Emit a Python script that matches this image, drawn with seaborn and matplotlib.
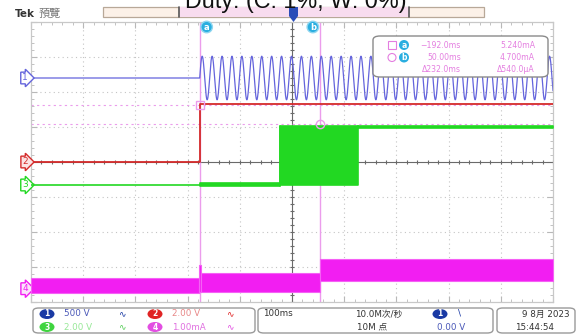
import numpy as np
import matplotlib
matplotlib.use("Agg")
import matplotlib.pyplot as plt
from matplotlib.patches import FancyBboxPatch, Rectangle, Ellipse, Polygon
from matplotlib.lines import Line2D
import seaborn as sns

# ---------------- data ----------------
TITLE = "Duty: (C: 1%, W: 0%)"
TIME_RANGE_MS = [-532.0, 520.0]          # visible record window (ms)
N_DIV_X, N_DIV_Y = 10, 8

CH_NAMES = ["1", "2", "3", "4"]
CH_SCALE = [500.0, 2.0, 2.0, 1.0]        # units per division
CH_POS_DIV = [2.40, 0.0, -0.657, -3.62]  # ground marker position (div)
CH_COLORS = ["#6464dc", "#d42a2a", "#22d822", "#f21ef2"]

# ch1: AC mains switched on at cursor a
CH1_ON_MS = -192.0
CH1_PEAK_V = 311.0
CH1_FREQ_HZ = 50.0

# ch2: 0 V -> 3.3 V step
CH2_T = [-532.0, -192.0, -192.0, 520.0]
CH2_V = [0.0, 0.0, 3.3, 3.3]

# ch3 segments (start ms, end ms, low V, high V)
CH3_T0 = [-532.0, -192.0, -30.0, 127.0]
CH3_T1 = [-192.0, -30.0, 127.0, 520.0]
CH3_LO = [0.0, -0.05, 0.0, 3.28]
CH3_HI = [0.0, 0.12, 3.35, 3.36]

# ch4 noise envelope segments (start ms, end ms, low mA, high mA)
CH4_T0 = [-532.0, -193.0, -189.0, 50.0]
CH4_T1 = [-193.0, -189.0, 50.0, 520.0]
CH4_LO = [-0.11, -0.09, -0.09, 0.22]
CH4_HI = [0.31, 0.69, 0.46, 0.86]

# cursors
CURSOR_T = [-192.0, 50.0]
CURSOR_VAL_MA = [5.240, 4.700]
CURSOR_LABELS = ["a", "b"]
READOUT_TIME = ["\u2212192.0ms", "50.00ms", "\u0394232.0ms"]
READOUT_VAL = ["5.240mA", "4.700mA", "\u0394540.0\u00b5A"]

# status bar
STATUS_SCALE_TEXT = ["500 V", "2.00 V", "2.00 V", "1.00mA"]
TIMEBASE = "100ms"
SAMPLE_RATE = "10.0M次/秒"
RECORD_LEN = "10M 点"
TRIG_LEVEL = "0.00 V"
DATE_TEXT = "9 8月 2023"
TIME_TEXT = "15:44:54"

# ---------------- styling ----------------
sns.set_theme(style="white")
plt.rcParams["font.family"] = ["DejaVu Sans", "Noto Sans CJK SC"]
CJK = ["Noto Sans CJK SC", "DejaVu Sans"]

W, H = 583, 335


def F(x, y):
    return x / W, 1 - y / H


fig = plt.figure(figsize=(W / 100, H / 100), dpi=100)
fig.patch.set_facecolor("white")
ax = fig.add_axes([31 / W, 1 - 302 / H, 522 / W, 280 / H])
ax.set_xlim(TIME_RANGE_MS)
ax.set_ylim(-N_DIV_Y / 2, N_DIV_Y / 2)
ax.set_facecolor("white")

x0, x1 = TIME_RANGE_MS
span = x1 - x0
grid_c = "#c4c4c4"
for i in range(1, N_DIV_X):
    if i == N_DIV_X // 2:
        continue
    ax.axvline(x0 + i * span / N_DIV_X, color=grid_c, lw=0.8, ls=(0, (1, 3)), zorder=0.5)
for j in range(-N_DIV_Y // 2 + 1, N_DIV_Y // 2):
    if j == 0:
        continue
    ax.axhline(j, color=grid_c, lw=0.8, ls=(0, (1, 3)), zorder=0.5)
xc = x0 + span / 2
ax.axvline(xc, color="#6a6a6a", lw=0.8, zorder=0.6)
ax.axhline(0, color="#6a6a6a", lw=0.8, zorder=0.6)
ax.plot(np.full(41, xc), np.linspace(-4, 4, 41), ls="none", marker="_", ms=3.5,
        color="#6a6a6a", mew=0.8, zorder=0.6)
ax.plot(np.linspace(x0, x1, 51), np.zeros(51), ls="none", marker="|", ms=3.5,
        color="#6a6a6a", mew=0.8, zorder=0.6)

ax.set_xticks([x0 + i * span / N_DIV_X for i in range(N_DIV_X + 1)])
ax.set_xticks([x0 + i * span / 50 for i in range(51)], minor=True)
ax.set_yticks(range(-4, 5))
ax.set_yticks(np.linspace(-4, 4, 41), minor=True)
ax.tick_params(which="both", direction="in", color="#b8b8b8", labelleft=False,
               labelbottom=False, top=True, right=True, left=True, bottom=True)
ax.tick_params(which="major", length=4, width=0.8)
ax.tick_params(which="minor", length=2, width=0.6)
for s in ax.spines.values():
    s.set_color("#c8c8c8")
    s.set_linewidth(0.9)


def to_div(ch, v):
    return CH_POS_DIV[ch] + np.asarray(v, dtype=float) / CH_SCALE[ch]


# cursor lines (behind traces)
for k, t in enumerate(CURSOR_T):
    ax.axvline(t, color="#eb9cec", lw=1.0, zorder=1)
    ax.axhline(to_div(3, CURSOR_VAL_MA[k]), color="#eb9cec", lw=0.8, ls=(0, (2, 3)), zorder=1)

# ch1
t_pre = np.array([x0, CH1_ON_MS])
t_ac = np.arange(CH1_ON_MS, x1 + 0.01, 0.25)
v_ac = CH1_PEAK_V * np.sin(2 * np.pi * CH1_FREQ_HZ * (t_ac - CH1_ON_MS) / 1000.0)
t1 = np.concatenate([t_pre, t_ac])
v1 = np.concatenate([[0.0, 0.0], v_ac])
sns.lineplot(x=t1, y=to_div(0, v1), ax=ax, color=CH_COLORS[0], lw=0.9,
             estimator=None, sort=False, zorder=2)

# ch2
sns.lineplot(x=CH2_T, y=to_div(1, CH2_V), ax=ax, color=CH_COLORS[1], lw=1.3,
             estimator=None, sort=False, zorder=3)

# ch3
for a, b, lo, hi in zip(CH3_T0, CH3_T1, CH3_LO, CH3_HI):
    ax.fill_between([a, b], to_div(2, [lo, lo]), to_div(2, [hi, hi]),
                    color=CH_COLORS[2], lw=1.2, edgecolor=CH_COLORS[2], zorder=4)
sns.lineplot(x=[CH3_T0[2], CH3_T0[2]], y=to_div(2, [CH3_LO[1], CH3_HI[2]]), ax=ax,
             color=CH_COLORS[2], lw=1.2, estimator=None, sort=False, zorder=4)
sns.lineplot(x=[CH3_T1[2], CH3_T1[2]], y=to_div(2, [CH3_LO[3], CH3_HI[2]]), ax=ax,
             color=CH_COLORS[2], lw=1.2, estimator=None, sort=False, zorder=4)

# ch4
for a, b, lo, hi in zip(CH4_T0, CH4_T1, CH4_LO, CH4_HI):
    ax.fill_between([a, b], to_div(3, [lo, lo]), to_div(3, [hi, hi]),
                    color=CH_COLORS[3], lw=0.8, edgecolor="#f560f5", zorder=5)

# cursor markers & labels
ya = to_div(3, CURSOR_VAL_MA[0])
yb = to_div(3, CURSOR_VAL_MA[1])
ax.plot([CURSOR_T[0]], [ya], marker="s", ms=6, mfc="none", mec="#eb9cec", mew=1, zorder=6)
ax.plot([CURSOR_T[1]], [yb], marker="o", ms=6, mfc="none", mec="#eb9cec", mew=1, zorder=6)
for t, lab, dx in zip(CURSOR_T, CURSOR_LABELS, [5, -5]):
    ax.annotate(lab, xy=(t, 3.857), xytext=(dx, 0), textcoords="offset points",
                ha="center", va="center", fontsize=6, color="white", fontweight="bold",
                bbox=dict(boxstyle="circle,pad=0.15", fc="#2aaee0", ec="#8fd6f0", lw=1),
                zorder=7)

# channel ground markers
marker_fc = ["white", "#fbe3e3", "white", "#fbe3fb"]
for ch, name in enumerate(CH_NAMES):
    ax.text(-0.006, CH_POS_DIV[ch], name, transform=ax.get_yaxis_transform(),
            ha="right", va="center", fontsize=6.5, color=CH_COLORS[ch], clip_on=False,
            bbox=dict(boxstyle="rarrow,pad=0.15", fc=marker_fc[ch], ec=CH_COLORS[ch], lw=1))

# ---------------- top bar ----------------
fig.text(*F(296, 8), TITLE, ha="center", va="baseline", fontsize=16.8,
         family="Liberation Sans", color="#111111")
fig.text(*F(15, 14), "Tek", ha="left", va="center", fontsize=7.5,
         fontweight="bold", color="#333333")
fig.text(*F(39, 14), "預覽", ha="left", va="center", fontsize=8,
         family=CJK, color="#777777")
fig.add_artist(Rectangle(F(103, 17), (484 - 103) / W, 10 / H, transform=fig.transFigure,
                         fc="#fcf1e8", ec="#b8a898", lw=0.9))
fig.add_artist(Rectangle(F(179, 17), (409 - 179) / W, 10 / H, transform=fig.transFigure,
                         fc="#f8dcef", ec="none"))
for xx in (179, 409):
    fig.add_artist(Line2D([xx / W, xx / W], [1 - 7 / H, 1 - 17 / H],
                          transform=fig.transFigure, color="#555555", lw=1.2))
fig.add_artist(Polygon([F(289, 7), F(298, 7), F(298, 16), F(293.5, 22), F(289, 16)],
                       closed=True, transform=fig.transFigure, fc="#2a4db8", ec="none"))

# ---------------- cursor readout ----------------
fig.add_artist(FancyBboxPatch(F(373, 77), (548 - 373) / W, 41 / H,
                              boxstyle="round,pad=0,rounding_size=0.012",
                              transform=fig.transFigure, fc="white", ec="#8a8a8a", lw=1.0))
rd_c = "#e47ee0"
rows_y = [45, 57.5, 70]
fig.add_artist(Rectangle(F(388, 49), 8 / W, 8 / H, transform=fig.transFigure,
                         fc="none", ec=rd_c, lw=0.8))
fig.add_artist(Ellipse(F(392, 57.5), 8 / W, 8 / H, transform=fig.transFigure,
                       fc="none", ec=rd_c, lw=0.8))
for lab, yy in zip(CURSOR_LABELS, rows_y[:2]):
    fig.add_artist(Ellipse(F(404, yy), 10 / W, 10 / H, transform=fig.transFigure,
                           fc="#2aaee0", ec="none"))
    fig.text(*F(404, yy), lab, ha="center", va="center", fontsize=5.5,
             fontweight="bold", color="white")
for yy, tt, vv in zip(rows_y, READOUT_TIME, READOUT_VAL):
    fig.text(*F(461, yy), tt, ha="right", va="center", fontsize=5.6, color=rd_c)
    fig.text(*F(535, yy), vv, ha="right", va="center", fontsize=5.6, color=rd_c)

# ---------------- status bar ----------------
for bx0, bx1 in [(33, 255), (258, 493), (497, 575)]:
    fig.add_artist(FancyBboxPatch(F(bx0, 333), (bx1 - bx0) / W, 25 / H,
                                  boxstyle="round,pad=0,rounding_size=0.01",
                                  transform=fig.transFigure, fc="white",
                                  ec="#9a9a9a", lw=1.0))

badge_c = ["#1a3aa4", "#e02424", "#3fd43f", "#e24ee2"]
text_c = ["#4a58b8", "#e88888", "#98e898", "#e070e0"]
badge_xy = [(47, 314), (155, 314), (47, 327), (155, 327)]
for ch, (bx, by) in enumerate(badge_xy):
    fig.add_artist(Ellipse(F(bx, by), 15 / W, 10 / H, transform=fig.transFigure,
                           fc=badge_c[ch], ec="none"))
    fig.text(*F(bx, by), CH_NAMES[ch], ha="center", va="center", fontsize=5.5,
             fontweight="bold", color="white")
    fig.text(*F(bx + 17, by), STATUS_SCALE_TEXT[ch], ha="left", va="center",
             fontsize=6.3, color=text_c[ch])
    fig.text(*F(bx + 75, by), "\u223f", ha="center", va="center", fontsize=6.5,
             color=badge_c[ch] if ch != 2 else "#55cc55")

fig.text(*F(263, 314), TIMEBASE, ha="left", va="center", fontsize=6.3, color="#333333")
fig.text(*F(355, 314), SAMPLE_RATE, ha="left", va="center", fontsize=6.3,
         family=["DejaVu Sans", "Noto Sans CJK SC"], color="#333333")
fig.text(*F(357, 327), RECORD_LEN, ha="left", va="center", fontsize=6.3,
         family=["DejaVu Sans", "Noto Sans CJK SC"], color="#333333")
fig.add_artist(Ellipse(F(440, 314), 15 / W, 10 / H, transform=fig.transFigure,
                       fc="#1a3aa4", ec="none"))
fig.text(*F(440, 314), "1", ha="center", va="center", fontsize=5.5,
         fontweight="bold", color="white")
fig.text(*F(460, 313), "\\", ha="center", va="center", fontsize=6.5, color="#1a3aa4")
fig.text(*F(437, 327), TRIG_LEVEL, ha="left", va="center", fontsize=6.3, color="#4a58b8")
fig.text(*F(570, 314), DATE_TEXT, ha="right", va="center", fontsize=6.3,
         family=["DejaVu Sans", "Noto Sans CJK SC"], color="#333333")
fig.text(*F(515, 327), TIME_TEXT, ha="left", va="center", fontsize=6.3, color="#333333")

fig.savefig("out.png", dpi=100, facecolor="white")
